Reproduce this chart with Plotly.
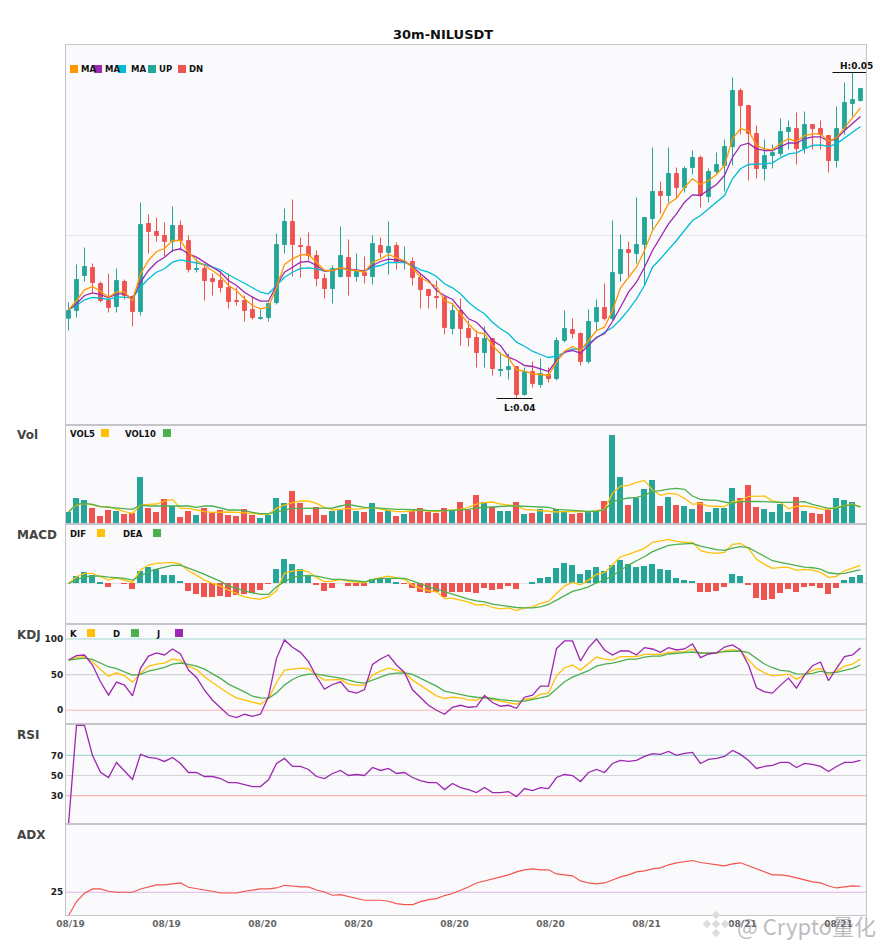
import plotly.graph_objects as go

TITLE = "30m-NILUSDT"
TICK = 0.00004
BASE = 0.03896
GRID_PRICE = 0.04654
X_TICK_IDX = [0, 12, 24, 36, 48, 60, 72, 84, 96]
X_TICK_TEXT = ["08/19", "08/19", "08/20", "08/20", "08/20", "08/20", "08/21", "08/21", "08/21"]

# prices, in exchange ticks above BASE
open_t = [106.3,114,149,157,141,124,118,143,128,113,201,193,189,183,199,184,155,156,146,144,137,124,124,115,106,107,122,180,203,179,178,169,146,136,148,167,148,152,148,179,172,179,162,163,147,135,128,127,96,114,96,87,72,86,54,55,58,30,53,40,50,46,84,95,91,63,103,117,106,151,175,171,180,206,233,229,251,237,257,267,228,253,259,278,334,319,291,256,269,271,293,296,276,300,296,289,264,296,321,324]
close_t = [114,145,158,142,124,117,144,129,113,200,193,189,183,199,184,155,156,144,143,137,123,123,114,107,107,121,180,203,180,178,169,146,136,156,169,148,153,149,181,172,178,162,163,147,135,129,127,97,114,96,87,72,86,56,55,58,30,53,41,51,46,84,96,91,63,103,117,106,152,175,172,180,207,233,229,251,237,256,267,229,253,260,278,334,319,291,256,269,272,293,297,276,300,296,290,264,296,322,325,336]
high_t = [122,160,177,161,143,151,156,145,129,222,210,207,202,218,204,189,166,159,151,154,151,137,129,128,115,122,191,216,225,187,192,174,151,159,198,185,171,168,189,187,203,182,178,167,151,135,144,129,120,126,104,94,98,86,72,71,58,57,63,66,57,87,114,106,92,115,125,141,204,190,183,227,207,277,243,277,257,258,274,269,256,272,285,347,336,319,299,285,280,306,304,312,313,300,304,289,318,342,352,336]
low_t = [94,107,143,132,122,112,112,125,98,109,171,183,168,172,174,152,152,124,129,132,116,119,103,105,105,103,120,171,148,147,164,138,126,121,147,129,143,141,140,167,150,155,155,139,116,116,116,90,90,79,78,57,57,49,48,45,26,29,37,37,42,44,82,86,59,61,94,104,104,143,148,161,138,195,211,222,226,232,250,217,222,250,233,259,290,244,246,244,256,268,275,260,271,275,275,252,257,290,308,323]

ma_fast_t = [114.7,124,134.7,138,133.3,127.3,132.3,132.3,124,150.7,164,173,176,184,184,172,164,159,154,148,139,134,125.7,119,115.7,117.3,137.3,160,165.7,169.7,170,162.3,154,154,156.7,154.7,154,152.3,162.3,165.7,170,166.7,164,156.7,147.3,142.3,138,124,120.7,110.7,100.7,92.3,90.7,79,70.7,66.7,54.7,53.3,50.7,50,49,62.3,73.3,78,74,84,94,97.3,114,136.7,147.3,157.3,174,194,205.7,220.7,226.3,237.3,245.7,240,244,250,259,285.7,295.7,294,279,275.7,274.7,281.3,285.7,283,289,290.7,290.7,283.3,286.7,296.7,305.7,316.7]
ma_mid_t = [114.7,120.7,129,131.7,130,126.7,130.7,130.7,125.7,142.3,154,162.3,167.3,174,175.7,170.7,167.3,162.3,157.3,152.3,144,139,132.3,127.3,123.3,123.3,139,152.3,157.3,162.3,163,159,153.3,154,156.7,155.3,154.7,153.3,159,163,165.3,164.7,163,158,150.7,144,134,129,125,115.7,105.7,102.3,94,84,79,67.3,64,59,58,55.7,53,64,72.3,74,71.3,79,87.3,90.7,103,117.3,132.3,142.3,157.3,174,187.3,200.7,210.7,222.3,229.7,229,234.7,240,249,267.3,279,281.3,275.7,274,274,278,281.7,281.3,285.7,287.7,287.7,283.3,285.7,294,300.7,308]
ma_slow_t = [114.7,119,124.7,127,126.3,125,127.3,127.3,126.3,137.3,145.7,152.3,155.7,162.3,164.7,163.3,162,160,157.3,154.7,149.7,145.7,141.3,136.7,132.3,130.7,139,147.3,152.3,156,156.7,155.7,153.3,154.7,156.3,154.7,154,153.3,157.3,159,162,162,162,159,154.7,152.3,148,140.7,136.7,130.7,122.3,115.7,110.7,102.3,95.7,90.7,82.3,78.3,73.3,70,67,68.3,72.3,75.7,75,80.7,87.3,92.3,97,105,114.7,125.7,139,157.3,165.7,174.7,184,194,204,209,215.7,222.3,229,245.7,255.7,260,260,260.7,261.7,266.7,270.7,271.7,275.7,279,279.7,278,280.7,286.3,291.7,298]

volume = [37,82,76,52,25,46,40,31,34,145,52,37,79,58,22,43,28,52,34,46,28,25,49,28,19,28,82,67,103,67,28,55,28,40,46,76,40,37,67,37,46,25,31,43,52,37,34,52,40,70,46,91,70,55,40,40,70,31,34,49,31,49,43,31,34,43,40,73,271,145,61,82,109,136,58,85,61,58,49,70,37,52,52,112,82,121,55,49,37,64,37,85,43,34,31,46,82,76,70,1]
vol5 = [37,58,63,58,53,53,45,38,33,58,60,61,70,75,48,48,43,38,36,37,37,36,35,33,30,30,48,58,65,70,70,63,51,43,45,48,45,48,51,46,43,38,38,41,43,40,38,41,43,45,51,61,65,67,61,59,55,45,43,43,41,37,38,38,38,38,41,45,93,115,117,126,132,103,87,93,91,78,60,63,55,53,53,68,71,84,85,85,70,66,47,54,55,52,46,45,51,55,61,51]
vol10 = [37,61,63,60,53,51,51,48,45,58,55,55,55,55,55,55,51,55,55,48,43,43,41,36,32,32,38,43,48,48,48,50,48,49,55,60,55,51,50,48,48,45,45,45,43,41,40,41,42,43,45,49,51,51,53,55,55,53,53,52,51,45,43,41,39,39,39,43,68,75,79,81,87,99,101,106,108,105,85,75,73,72,67,63,68,69,69,68,66,66,66,67,68,60,55,48,48,55,59,53]

macd_hist = [0,22,34,25,4,-11,0,-2,-17,37,49,43,25,25,7,-23,-32,-41,-41,-38,-41,-35,-32,-29,-20,-2,43,73,58,43,25,-5,-23,-14,0,-8,-8,-8,13,13,16,4,-2,-14,-26,-29,-26,-41,-26,-26,-26,-29,-14,-20,-17,-8,-17,0,4,16,19,46,61,55,28,40,49,37,55,70,58,49,52,58,43,40,16,10,7,-26,-26,-23,-11,28,22,-5,-44,-50,-47,-29,-17,-26,-11,-8,-14,-32,-14,10,19,25]
dif = [0,20,30,30,20,10,17,10,3,40,55,60,61,63,58,38,25,10,0,-8,-20,-30,-40,-45,-47,-40,-22,30,37,40,35,18,5,7,12,6,4,2,12,18,22,17,12,-5,-15,-22,-25,-45,-45,-50,-56,-65,-63,-72,-76,-73,-81,-73,-70,-60,-54,-30,-7,3,-4,10,27,32,55,80,87,95,105,123,127,132,126,123,123,98,92,90,93,117,120,105,72,57,45,48,48,39,42,40,33,18,21,38,46,54]
dea = [0,10,20,22,22,19,18,15,10,23,35,43,49,54,55,47,37,27,17,6,-7,-15,-22,-28,-33,-33,-10,5,18,22,24,22,16,12,12,10,7,5,11,15,15,15,15,8,-2,-10,-17,-25,-32,-40,-47,-52,-55,-62,-66,-69,-72,-73,-73,-70,-63,-50,-38,-24,-18,-10,2,10,23,40,55,68,80,95,105,114,117,119,120,112,106,101,99,106,110,107,94,82,68,63,58,52,49,47,43,32,29,30,36,41]

kdj_k = [70.5,73.8,75.2,68.2,57.3,47.9,52.6,48.4,39.5,51.7,62,64.9,66.3,71.9,70,61.6,57.3,47,39,31.5,23.5,17.4,14.6,11.8,8.5,16.5,39,56.4,57.8,59.2,58.3,49.4,42.3,42.3,43.2,36.7,35.3,35.3,49.4,55,59.2,56.4,53.1,42.3,35.3,27.7,20.2,16.5,18.3,17.4,14.6,14.1,19.7,15,12.7,11.3,8.5,15.5,16.5,22.6,24,48.4,59.7,63.5,56.4,65.8,74.7,71.9,70.5,75.2,75.2,75.2,78.5,78.5,78.5,81.3,81.3,82.3,86,79.9,79.9,79.9,83.2,85.1,83.2,70.5,58.8,52.6,48.4,49.4,50.8,43.7,49.4,56.4,58.8,49.4,55,62,64.9,71.9]
kdj_d = [70.5,71.9,73.3,71.4,65.8,61.1,58.3,54,49.4,50.3,55,57.3,60.2,64.9,66.3,64.4,62,57.8,51.7,44.7,36.7,31.5,25.9,19.7,17.4,16.9,24.4,35.3,43.2,48.4,50.8,50.8,48.4,47,45.1,42.3,39.5,38.1,42.3,46.5,50.8,52.2,52.6,50.3,44.7,39,33.8,26.8,24.4,22.1,19.7,18.3,17.9,16.5,15,13.6,12.7,12.7,14.6,17.4,20.2,30.6,40,46.5,50.8,55.5,62,64.9,66.3,69.1,71.9,71.9,74.7,76.1,76.1,79,79.4,80.8,81.8,80.4,80.4,80.8,82.3,83.2,83.2,80.8,72.9,64.9,59.7,55.9,55,51.2,50.8,51.7,55,52.6,53.1,55.9,58.8,63.5]
kdj_j = [70.5,76.6,77.6,63.5,40,21.2,39.5,35.3,20.2,58.8,76.1,80.4,77.6,86,79,56.4,46,28.2,14.1,3.3,-7,-10.3,-5.6,-8.5,-5.6,18.8,72.9,98.7,88.4,81.3,68.2,47,29.6,36.2,40,26.8,24,29.1,64.4,71.9,77.6,63.5,53.1,28.7,17.4,7,0,-5.6,4.2,7,4.2,5.2,20.7,10.8,5.6,7,2.8,18.3,21.2,33.8,33.8,86.5,97.3,97.3,69.1,87.9,100.1,84.6,77.6,83.2,83.2,77.6,87.9,86,81.3,87.9,84.6,86,93.1,73.8,79,80.4,88.8,91.7,84.6,63.5,31.5,25.9,24,35.3,45.1,31,49.4,62.5,67.7,41.4,58.8,75.2,77.6,87.4]

rsi = [1.3,100,100,70,53.3,48,63,54.3,46,71,68,67,64,68,62,53,53,49,49,47,43,43,41,39,39,45.7,62,67,59,59,56,49,47,52,55,50,51,50,58,55,57,52,53,48,45,43,43,36,42,38,36,33,38,33,33,34,29,37,35,38,37,48,51,50,44,53,56,53,62,65,64,65,69,71.7,71,74,70,72,73,62,66,67,69,75,71,65,57,59,60,63,63,58,62,61,59,54,59,63,63,65]
adx = [11,19.4,24.4,27,27,25.6,25,25,25,27,28.4,29.4,29.4,30,30.6,28,27,26.4,25.6,24.6,24.6,24.6,25.6,26.4,27,27,27.6,29.2,28.6,28.2,28.2,26.4,25.2,23.2,23.6,22.6,21.4,20.2,20.2,20.2,19.6,18.2,17.6,17.6,19.4,20.6,21.2,23,24.2,26,28.2,30.6,31.8,33,34.2,35.4,37.2,38.4,39,38.4,38.4,36,35.4,34.8,31.8,30.6,30,30.6,32.4,34.2,35.4,37.2,37.8,39,39.6,41.4,42.6,43.2,44,42.8,42,41.4,40.8,42,42.6,40.8,39,37.2,35.4,35.4,34.8,33.6,32.4,31.2,30.6,28.8,27.6,28.2,28.8,28.6]

for arr in (open_t, close_t, high_t, low_t, ma_fast_t, ma_mid_t, ma_slow_t, volume, vol5, vol10,
            macd_hist, dif, dea, kdj_k, kdj_d, kdj_j, rsi, adx):
    assert len(arr) == 100, len(arr)

UP, DN = "#26a69a", "#ef5350"
ORANGE, PURPLE, CYAN = "#ff9800", "#9c27b0", "#00bcd4"
YELLOW, GREEN = "#ffc107", "#4caf50"
BG = "#fafafc"
FONT = "DejaVu Sans"
W, H = 885, 950
L, R = 66, 866
PANELS = [(45, 424.5), (424.5, 524.3), (524.3, 624.2), (624.2, 724.3), (724.3, 824.4), (824.4, 915)]

price = lambda a: [BASE + v * TICK for v in a]
x = list(range(100))
o, c, hi, lo = price(open_t), price(close_t), price(high_t), price(low_t)

fig = go.Figure()
fig.add_trace(go.Candlestick(x=x, open=o, high=hi, low=lo, close=c, whiskerwidth=0, yaxis="y", xaxis="x",
                             increasing=dict(line=dict(color=UP, width=1), fillcolor=UP),
                             decreasing=dict(line=dict(color=DN, width=1), fillcolor=DN), name="K"))


def line(y, color, name, axis, width=1.3):
    fig.add_trace(go.Scatter(x=x, y=y, mode="lines", name=name, line=dict(color=color, width=width),
                             xaxis="x" + axis, yaxis="y" + axis))


line(price(ma_slow_t), CYAN, "MA20", "")
line(price(ma_mid_t), PURPLE, "MA10", "")
line(price(ma_fast_t), ORANGE, "MA5", "")

fig.add_trace(go.Bar(x=x, y=volume, width=0.75, offset=-0.4375, name="Vol", xaxis="x2", yaxis="y2",
                     marker=dict(color=[UP if a >= b else DN for a, b in zip(close_t, open_t)], line_width=0)))
line(vol5, YELLOW, "VOL5", "2")
line(vol10, GREEN, "VOL10", "2")

fig.add_trace(go.Bar(x=x, y=macd_hist, width=0.75, offset=-0.4375, name="MACD", xaxis="x3", yaxis="y3",
                     marker=dict(color=[UP if v >= 0 else DN for v in macd_hist], line_width=0)))
line(dif, YELLOW, "DIF", "3")
line(dea, GREEN, "DEA", "3")

line(kdj_k, YELLOW, "K", "4")
line(kdj_d, GREEN, "D", "4")
line(kdj_j, PURPLE, "J", "4")
line(rsi, PURPLE, "RSI", "5")
line(adx, "#f4524d", "ADX", "6", 1.1)


def py(v):
    return 1 - v / H


def px(v):
    return v / W


layout = dict(width=W, height=H, margin=dict(l=0, r=0, t=0, b=0, autoexpand=False), autosize=False,
              paper_bgcolor="white", plot_bgcolor=BG, showlegend=False, bargap=0,
              font=dict(family=FONT), boxgap=0.32)
Y_RANGES = [[BASE, BASE + 379.5 * TICK], [0, 300], [-122, 177], [-19.7, 120.8], [1.3, 101], [11.4, 65.6]]
Y_TICKS = [[GRID_PRICE], [], [0], [0, 50, 100], [30, 50, 70], [25]]
for k, ((t, b), rng, tv) in enumerate(zip(PANELS, Y_RANGES, Y_TICKS)):
    s = "" if k == 0 else str(k + 1)
    last = k == len(PANELS) - 1
    layout["xaxis" + s] = dict(domain=[px(L), px(R)], range=[-0.3125, 99.6875], anchor="y" + s,
                               showgrid=False, zeroline=False, showline=True, mirror=True,
                               linecolor="#c4c4ca", linewidth=1, ticks="", rangeslider=dict(visible=False),
                               tickvals=X_TICK_IDX if last else [], ticktext=X_TICK_TEXT if last else [],
                               tickfont=dict(size=9, color="#666666", family=FONT, weight=700),
                               showticklabels=last, **({} if k == 0 else {"matches": "x"}))
    labels = k >= 3
    layout["yaxis" + s] = dict(domain=[py(b), py(t)], range=rng, anchor="x" + s, fixedrange=True,
                               showgrid=k < 3, gridcolor="#e4e4e6", gridwidth=1, zeroline=False,
                               showline=True, mirror=True, linecolor="#c4c4ca", linewidth=1,
                               tickvals=tv, showticklabels=labels, ticks="",
                               tickfont=dict(size=9, color="#222222", family=FONT, weight=700))
layout["xaxis6"]["ticklabelshift"] = 2
fig.update_layout(**layout)

# reference levels
LEVELS = [("y4", 100, "#a5d8d4"), ("y4", 50, "#d4d4d6"), ("y4", 0, "#ffb4b4"),
          ("y5", 70, "#a5d8d4"), ("y5", 50, "#d4d4d6"), ("y5", 30, "#ffb4b4"),
          ("y6", 25, "#dfb6e6")]
shapes = [dict(type="line", xref="paper", x0=px(L), x1=px(R), yref=yr, y0=v, y1=v, layer="below",
               line=dict(color=col, width=1.2)) for yr, v, col in LEVELS]

# high / low markers
imax = high_t.index(max(high_t))
imin = low_t.index(min(low_t))
shapes.append(dict(type="line", xref="x", yref="y", x0=imax - 2.5, x1=imax + 2, y0=max(hi), y1=max(hi),
                   line=dict(color="#111111", width=1.2)))
shapes.append(dict(type="line", xref="x", yref="y", x0=imin - 2.5, x1=imin + 2, y0=min(lo), y1=min(lo),
                   line=dict(color="#111111", width=1.2)))
annos = [dict(xref="x", yref="y", x=imax + 0.55, y=max(hi), yshift=0, text=f"H:{max(hi):.2f}", showarrow=False,
              yanchor="bottom", font=dict(size=9, color="#111111", weight=700)),
         dict(xref="x", yref="y", x=imin + 0.4, y=min(lo), yshift=-2, text=f"L:{min(lo):.2f}", showarrow=False,
              yanchor="top", font=dict(size=9, color="#111111", weight=700))]


def text(x_, y_, s, size=9, color="#111111", anchor="left", weight=700, family=FONT):
    annos.append(dict(xref="paper", yref="paper", x=px(x_), y=py(y_), text=s, showarrow=False, xanchor=anchor,
                      yanchor="middle", xshift=-2 if anchor == "left" else 0,
                      font=dict(size=size, color=color, family=family, weight=weight)))


def square(x_, y_, color):
    shapes.append(dict(type="rect", xref="paper", yref="paper", x0=px(x_), x1=px(x_ + 8), y0=py(y_ + 8), y1=py(y_),
                       fillcolor=color, line_width=0))


text(443, 34.5, TITLE, size=13, anchor="center")
for sx, color, tx, s in [(70, ORANGE, 81, "MA"), (94, PURPLE, 105, "MA"), (118, CYAN, 131, "MA"),
                         (148, UP, 159, "UP"), (178, DN, 189, "DN")]:
    text(tx, 69.5, s, size=8.5)
    square(sx, 65, color)
for sx, color, tx, s, y0 in [(101, YELLOW, 70, "VOL5", 429), (163, GREEN, 125, "VOL10", 429),
                             (97, YELLOW, 70, "DIF", 529), (153, GREEN, 123, "DEA", 529),
                             (87, YELLOW, 70, "K", 629), (131, GREEN, 113, "D", 629), (175, PURPLE, 156, "J", 629)]:
    text(tx, y0 + 4.5, s, size=8.5)
    square(sx, y0, color)
for y_, s in [(435, "Vol"), (535, "MACD"), (635, "KDJ"), (735, "RSI"), (835, "ADX")]:
    text(17, y_, s, size=12, color="#444444")

# watermark
for cx, cy in [(716, 915), (707, 924), (716, 924), (725, 924), (716, 933)]:
    r = 4.5
    shapes.append(dict(type="path", xref="paper", yref="paper",
                       path=f"M {px(cx)} {py(cy - r)} L {px(cx + r)} {py(cy)} L {px(cx)} {py(cy + r)} L {px(cx - r)} {py(cy)} Z",
                       fillcolor="#dcdcde", line=dict(color="white", width=0.5)))
text(737, 925, "@ Crypto量化", size=22, color="rgba(120,120,125,0.5)", weight=400, family="Noto Sans CJK SC")

fig.update_layout(shapes=shapes, annotations=annos)
fig.write_html("out.html", config=dict(displayModeBar=False),
               post_script="document.body.style.margin='0';document.documentElement.style.overflow='hidden';")
